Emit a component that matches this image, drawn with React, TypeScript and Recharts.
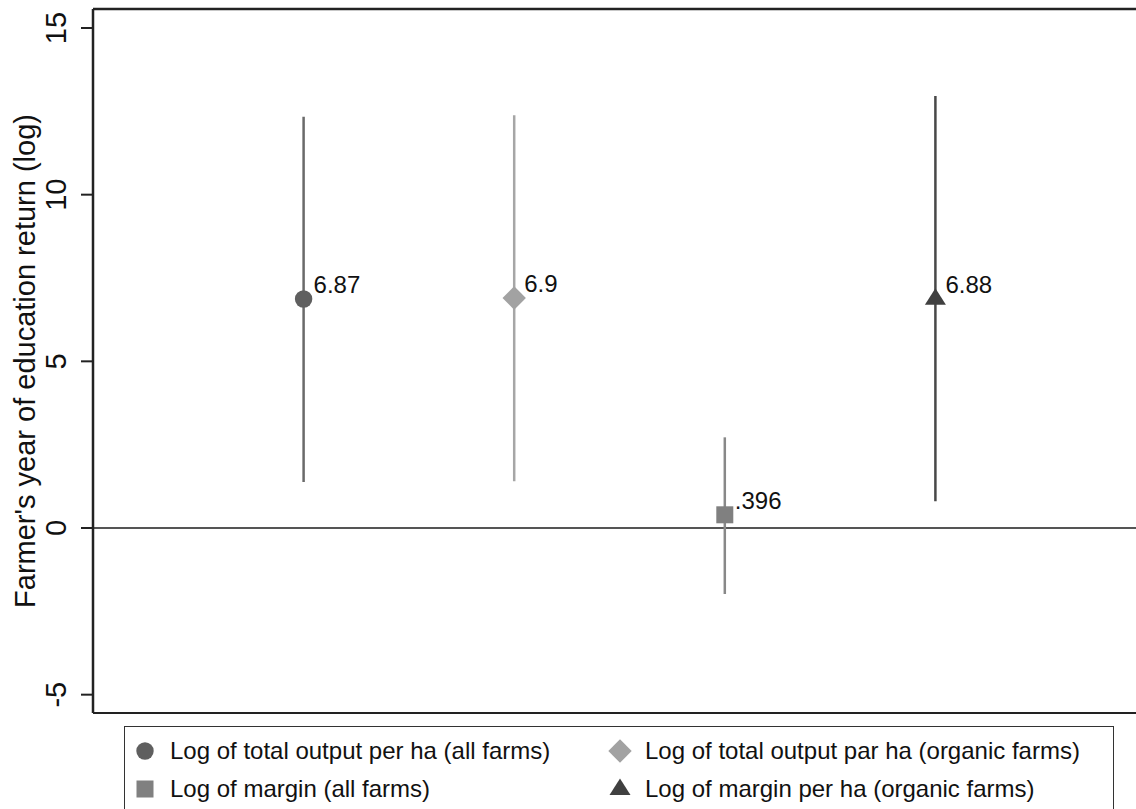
import React from "react";
import {
  ComposedChart,
  Scatter,
  ErrorBar,
  XAxis,
  YAxis,
  ReferenceLine,
  Legend,
  Label,
} from "recharts";

// one estimate per specification, with its confidence interval
const seriesNames = [
  "Log of total output per ha (all farms)",
  "Log of total output par ha (organic farms)",
  "Log of margin (all farms)",
  "Log of margin per ha (organic farms)",
];
const positions = [1, 2, 3, 4];
const estimates = [6.87, 6.9, 0.396, 6.88];
const estLabels = ["6.87", "6.9", ".396", "6.88"];
const ciLow = [1.38, 1.4, -1.98, 0.8];
const ciHigh = [12.34, 12.38, 2.72, 12.96];
const yTicks = [-5, 0, 5, 10, 15];
const yDomain = [-5.55, 15.57];

const shapes = ["circle", "diamond", "square", "triangle"];
const markerColors = ["#5f5f5f", "#a2a2a2", "#808080", "#404040"];
const lineColors = ["#6a6a6a", "#a6a6a6", "#888888", "#484848"];

const FONT = "Arial, 'Liberation Sans', sans-serif";

const drawMarker = (shape: string, cx: number, cy: number, fill: string) => {
  if (shape === "circle") return <circle cx={cx} cy={cy} r={8.7} fill={fill} />;
  if (shape === "diamond")
    return (
      <polygon
        points={`${cx},${cy - 11.7} ${cx + 11.7},${cy} ${cx},${cy + 11.7} ${cx - 11.7},${cy}`}
        fill={fill}
      />
    );
  if (shape === "square")
    return <rect x={cx - 8.5} y={cy - 8.5} width={17} height={17} fill={fill} />;
  return (
    <polygon
      points={`${cx},${cy - 10.5} ${cx + 10.5},${cy + 6} ${cx - 10.5},${cy + 6}`}
      fill={fill}
    />
  );
};

const makeShape = (i: number) => (props: any) => {
  const { cx, cy } = props;
  return (
    <g>
      {drawMarker(shapes[i], cx, cy, markerColors[i])}
      <text x={cx + 10} y={cy - 6} fontSize={24} fontFamily={FONT} fill="#111">
        {estLabels[i]}
      </text>
    </g>
  );
};

const YTick = (props: any) => {
  const { x, y, payload } = props;
  return (
    <text
      x={x}
      y={y}
      transform={`rotate(-90 ${x} ${y})`}
      textAnchor="middle"
      fontSize={29}
      fontFamily={FONT}
      fill="#111"
    >
      {payload.value}
    </text>
  );
};

const YTitle = (props: any) => {
  const vb = props.viewBox || { x: 0, y: 9, width: 93, height: 704 };
  const cx = 35;
  const cy = vb.y + vb.height / 2;
  return (
    <text
      x={cx}
      y={cy}
      transform={`rotate(-90 ${cx} ${cy})`}
      textAnchor="middle"
      fontSize={29}
      fontFamily={FONT}
      fill="#111"
    >
      Farmer's year of education return (log)
    </text>
  );
};

const LegendBox = () => (
  <div
    style={{
      boxSizing: "border-box",
      width: 990,
      height: 92,
      border: "1.5px solid #333",
      background: "#fff",
      padding: "5px 0 0 8px",
      display: "flex",
      flexWrap: "wrap",
      alignContent: "flex-start",
      fontFamily: FONT,
      fontSize: 24,
      lineHeight: "38px",
      color: "#111",
    }}
  >
    {seriesNames.map((name, i) => (
      <div
        key={name}
        style={{ display: "flex", alignItems: "center", width: 475, height: 38 }}
      >
        <svg
          width={24}
          height={24}
          style={{ marginRight: 13, flexShrink: 0, display: "block" }}
        >
          {drawMarker(shapes[i], 12, 12, markerColors[i])}
        </svg>
        <span style={{ whiteSpace: "nowrap" }}>{name}</span>
      </div>
    ))}
  </div>
);

export default function App() {
  const seriesData = positions.map((x, i) => [
    {
      x,
      y: estimates[i],
      err: [estimates[i] - ciLow[i], ciHigh[i] - estimates[i]],
    },
  ]);

  return (
    <div
      style={{
        position: "absolute",
        left: 0,
        top: 0,
        width: 1136,
        height: 809,
        overflow: "hidden",
        background: "#fff",
      }}
    >
      <ComposedChart
        width={1150}
        height={830}
        margin={{ top: 9, right: 4, left: 0, bottom: 117 }}
      >
        <XAxis dataKey="x" type="number" domain={[0, 5]} hide />
        <YAxis
          type="number"
          domain={yDomain}
          ticks={yTicks}
          width={93}
          tickSize={12}
          tickMargin={15}
          tick={<YTick />}
          tickLine={{ stroke: "#222", strokeWidth: 2 }}
          axisLine={{ stroke: "#222", strokeWidth: 2.5 }}
          allowDataOverflow
        >
          <Label content={<YTitle />} />
        </YAxis>
        {/* plot region frame top and bottom */}
        <ReferenceLine y={yDomain[1]} stroke="#222" strokeWidth={2.5} />
        <ReferenceLine y={yDomain[0]} stroke="#222" strokeWidth={2} />
        <ReferenceLine y={0} stroke="#555" strokeWidth={2} />
        {seriesData.map((d, i) => (
          <Scatter
            key={seriesNames[i]}
            name={seriesNames[i]}
            data={d}
            dataKey="y"
            fill={markerColors[i]}
            shape={makeShape(i)}
            isAnimationActive={false}
          >
            <ErrorBar
              dataKey="err"
              direction="y"
              width={0}
              stroke={lineColors[i]}
              strokeWidth={2.5}
              isAnimationActive={false}
            />
          </Scatter>
        ))}
        <Legend
          layout="horizontal"
          verticalAlign="middle"
          align="center"
          content={<LegendBox />}
          wrapperStyle={{ left: 124, top: 726, width: 990, height: 92 }}
        />
      </ComposedChart>
    </div>
  );
}
